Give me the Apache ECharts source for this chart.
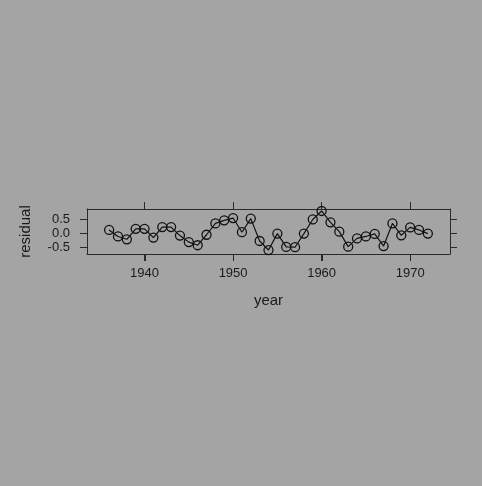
<!DOCTYPE html>
<html>
<head>
<meta charset="utf-8">
<script src="https://cdn.jsdelivr.net/npm/echarts@6/dist/echarts.min.js"></script>
<style>
html,body{margin:0;padding:0;background:#a4a4a4;}
#c{width:482px;height:486px;}
</style>
</head>
<body>
<div id="c"></div>
<script>
const years = [1936,1937,1938,1939,1940,1941,1942,1943,1944,1945,1946,1947,1948,1949,1950,1951,1952,1953,1954,1955,1956,1957,1958,1959,1960,1961,1962,1963,1964,1965,1966,1967,1968,1969,1970,1971,1972];
const residual = [0.12,-0.11,-0.21,0.16,0.16,-0.15,0.22,0.22,-0.08,-0.31,-0.42,-0.05,0.35,0.46,0.54,0.04,0.52,-0.27,-0.59,-0.01,-0.48,-0.49,-0.01,0.49,0.79,0.39,0.06,-0.47,-0.18,-0.11,-0.02,-0.45,0.35,-0.07,0.21,0.12,-0.01];
const xTicks = [1940,1950,1960,1970];
const yTicks = [-0.5,0,0.5];

const Y_MIN = -0.73, Y_MAX = 0.86;
const ink = '#1a1a1a';
const frame = '#2a2a2a';
const chart = echarts.init(document.getElementById('c'));
const xBase = {
  type:'value', min:1933.5, max:1974.5,
  splitLine:{show:false},
  axisLine:{show:true, onZero:false, lineStyle:{color:frame, width:1}}
};
const yBase = {
  type:'value', min:Y_MIN, max:Y_MAX,
  splitLine:{show:false},
  axisLine:{show:true, onZero:false, lineStyle:{color:frame, width:1}}
};
chart.setOption({
  backgroundColor:'#a4a4a4',
  animation:false,
  grid:{left:87, right:32, top:209, bottom:232, show:false},
  xAxis:[
    Object.assign({}, xBase, {
      position:'bottom',
      name:'year', nameLocation:'middle', nameGap:39,
      nameTextStyle:{color:ink, fontSize:15, fontFamily:'Liberation Sans'},
      axisTick:{show:true, length:7, inside:false, customValues:xTicks, lineStyle:{color:frame}},
      axisLabel:{show:true, margin:13, customValues:xTicks, color:ink, fontSize:13, fontFamily:'Liberation Sans',
        formatter:function(v){return String(v);}}
    }),
    Object.assign({}, xBase, {
      position:'top',
      axisTick:{show:true, length:7, inside:false, customValues:xTicks, lineStyle:{color:frame}},
      axisLabel:{show:false}
    })
  ],
  yAxis:[
    Object.assign({}, yBase, {
      position:'left',
      name:'residual', nameLocation:'middle', nameGap:54, nameRotate:90,
      nameTextStyle:{color:ink, fontSize:15, fontFamily:'Liberation Sans'},
      axisTick:{show:true, length:7, inside:false, customValues:yTicks, lineStyle:{color:frame}},
      axisLabel:{show:true, margin:17, customValues:yTicks, color:ink, fontSize:13, fontFamily:'Liberation Sans',
        formatter:function(v){return v.toFixed(1);}}
    }),
    Object.assign({}, yBase, {
      position:'right',
      axisTick:{show:true, length:7, inside:false, customValues:yTicks, lineStyle:{color:frame}},
      axisLabel:{show:false}
    })
  ],
  series:[{
    type:'line',
    xAxisIndex:0, yAxisIndex:0,
    data: years.map(function(y,i){return [y, residual[i]];}),
    symbol:'circle', symbolSize:9, showAllSymbol:true,
    lineStyle:{color:'#111', width:1.2},
    itemStyle:{color:'rgba(0,0,0,0)', borderColor:'#111', borderWidth:1.3},
    emphasis:{disabled:true}
  },{
    type:'custom',
    xAxisIndex:0, yAxisIndex:0,
    clip:false, silent:true,
    data: xTicks.map(function(v){return [v, Y_MIN];}),
    encode:{x:0, y:1},
    renderItem:function(params, api){
      var p = api.coord([api.value(0), api.value(1)]);
      var x = Math.round(p[0]) + 0.5;
      return {type:'line', shape:{x1:x, y1:p[1], x2:x, y2:p[1] + 7},
        style:{stroke:frame, lineWidth:1}};
    }
  }]
});
</script>
</body>
</html>
